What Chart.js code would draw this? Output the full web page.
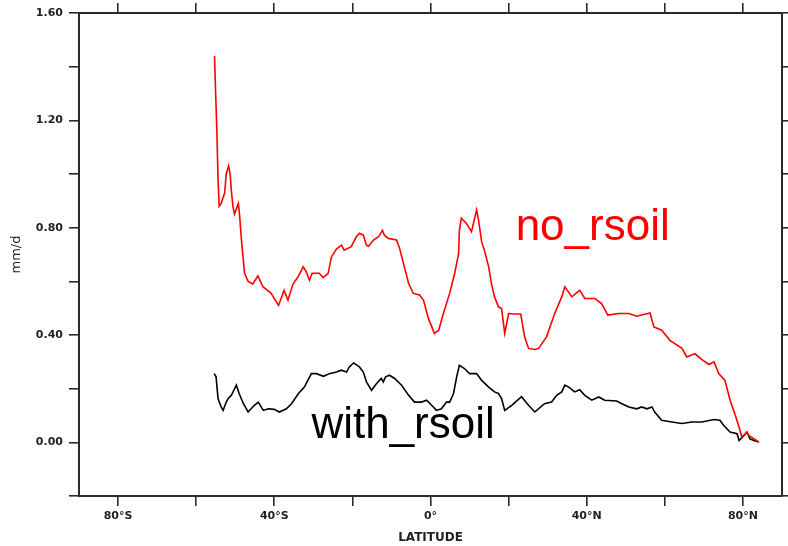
<!DOCTYPE html>
<html>
<head>
<meta charset="utf-8">
<script src="https://cdn.jsdelivr.net/npm/chart.js@4.4.1/dist/chart.umd.min.js"></script>
<style>
html,body{margin:0;padding:0;background:#fff;}
canvas{display:block;}
</style>
</head>
<body>
<canvas id="c" width="788" height="546"></canvas>
<script>
// ---- data (latitude in degrees, value in mm/d) ----
const noRsoilLat = [-55.3,-55.1,-54.7,-54.4,-54.1,-53.6,-52.7,-52.3,-51.7,-51.3,-51.0,-50.6,-50.2,-49.7,-49.2,-48.9,-48.5,-48.0,-47.6,-46.7,-45.5,-44.2,-42.9,-40.8,-38.9,-37.5,-36.5,-35.2,-33.9,-32.6,-31.8,-31.0,-30.3,-28.5,-27.5,-26.2,-25.4,-24.1,-22.8,-22.1,-20.3,-19.0,-18.2,-17.2,-16.4,-15.9,-14.6,-13.3,-12.3,-11.8,-10.8,-8.7,-7.9,-6.7,-5.6,-4.4,-2.8,-1.8,-0.5,1.0,2.1,3.3,4.9,6.2,7.2,7.4,7.9,9.2,10.5,11.0,11.8,12.3,13.1,13.8,14.9,15.6,16.4,17.4,18.2,19.0,20.0,21.5,23.1,24.1,25.1,26.7,27.7,29.7,31.8,33.6,34.4,36.2,38.2,39.5,42.1,43.8,45.4,48.2,50.8,52.8,56.2,57.2,59.2,61.3,64.4,65.6,67.7,69.5,71.3,72.6,73.8,75.4,76.7,77.9,79.0,79.7,80.5,81.0,81.5,82.8,84.1];
const noRsoilVal = [1.44,1.34,1.16,0.98,0.88,0.89,0.93,1.00,1.03,1.00,0.94,0.88,0.85,0.87,0.89,0.85,0.77,0.69,0.63,0.60,0.59,0.62,0.58,0.555,0.51,0.567,0.53,0.59,0.617,0.654,0.635,0.604,0.63,0.63,0.614,0.63,0.69,0.72,0.735,0.716,0.729,0.766,0.779,0.772,0.735,0.73,0.754,0.766,0.79,0.772,0.76,0.754,0.722,0.654,0.592,0.555,0.549,0.53,0.46,0.406,0.418,0.48,0.555,0.63,0.704,0.79,0.835,0.816,0.785,0.816,0.866,0.828,0.747,0.716,0.654,0.592,0.542,0.505,0.499,0.406,0.48,0.478,0.478,0.393,0.35,0.346,0.35,0.393,0.48,0.542,0.58,0.542,0.567,0.536,0.536,0.517,0.474,0.48,0.48,0.47,0.482,0.43,0.418,0.38,0.35,0.318,0.33,0.308,0.29,0.30,0.256,0.231,0.157,0.107,0.057,0.02,0.03,0.038,0.026,0.014,0.001];

const withRsoilLat = [-55.4,-54.9,-54.4,-53.6,-53.1,-52.3,-51.8,-51.0,-49.7,-49.0,-47.9,-46.7,-45.1,-44.1,-42.8,-41.5,-40.0,-38.7,-36.9,-35.6,-33.8,-32.3,-30.5,-29.2,-27.4,-25.9,-24.1,-22.8,-21.5,-20.8,-19.7,-18.2,-17.2,-16.4,-15.1,-13.8,-12.6,-12.1,-11.5,-10.5,-9.2,-7.4,-5.6,-4.1,-2.3,-1.0,0.3,1.5,2.8,4.1,4.9,5.9,6.7,7.4,8.7,10.0,11.8,13.1,14.9,16.4,17.4,18.2,19.0,20.8,23.3,25.1,26.7,29.2,31.0,32.3,33.6,34.4,35.4,36.9,38.2,39.5,41.3,43.1,44.6,47.7,49.0,50.8,52.8,54.1,55.4,56.7,57.4,59.2,61.8,64.4,66.9,69.5,72.6,74.1,75.1,76.7,78.5,79.0,80.3,81.0,81.8,82.8,84.1];
const withRsoilVal = [0.256,0.244,0.163,0.132,0.119,0.15,0.163,0.175,0.213,0.182,0.144,0.113,0.138,0.15,0.119,0.125,0.123,0.113,0.125,0.144,0.182,0.206,0.256,0.256,0.246,0.256,0.262,0.269,0.262,0.281,0.296,0.281,0.262,0.225,0.194,0.219,0.238,0.225,0.244,0.25,0.238,0.213,0.175,0.15,0.15,0.157,0.138,0.119,0.125,0.15,0.15,0.182,0.244,0.287,0.275,0.256,0.256,0.231,0.206,0.188,0.182,0.163,0.119,0.138,0.17,0.138,0.113,0.144,0.15,0.175,0.188,0.213,0.206,0.188,0.196,0.175,0.157,0.169,0.157,0.154,0.144,0.132,0.125,0.132,0.125,0.132,0.113,0.082,0.076,0.07,0.076,0.076,0.085,0.082,0.063,0.038,0.032,0.007,0.026,0.038,0.013,0.007,0.001];

const seriesNames = ['no_rsoil', 'with_rsoil'];
const seriesColors = ['#ff0000', '#000000'];
// annotation anchor positions in data coordinates [lat, value]
const labelAnchors = [[21.8, 0.754], [-30.5, 0.015]];

const xMin = -90, xMax = 90;
const xTickValues = [-80,-60,-40,-20,0,20,40,60,80];
const xTickLabels = ['80°S','','40°S','','0°','','40°N','','80°N'];
const yMin = -0.2, yMax = 1.6, yStep = 0.2;
const yLabelTicks = [0, 0.4, 0.8, 1.2, 1.6];
const xTitle = 'LATITUDE';
const yTitle = 'mm/d';

function toPoints(xs, ys){ return xs.map((x,i)=>({x:x, y:ys[i]})); }

const axisColor = '#2a2a2a';
const tickFont = {family:'DejaVu Sans', size:11, weight:'bold'};

function frameGrid(){
  return {display:true, drawOnChartArea:false, drawTicks:true, tickLength:10, color:axisColor, lineWidth:1.6};
}
function frameBorder(){ return {display:true, color:axisColor, width:2}; }
function setXTicks(s){ s.ticks = xTickValues.map(v=>({value:v})); }

const annotatePlugin = {
  id:'annotate',
  afterDatasetsDraw(chart){
    const ctx = chart.ctx;
    const xs = chart.scales.x, ys = chart.scales.y;
    ctx.save();
    ctx.font = '44px "Liberation Sans"';
    ctx.textBaseline = 'alphabetic';
    ctx.textAlign = 'left';
    seriesNames.forEach((name,i)=>{
      ctx.fillStyle = seriesColors[i];
      ctx.fillText(name, xs.getPixelForValue(labelAnchors[i][0]), ys.getPixelForValue(labelAnchors[i][1]));
    });
    ctx.restore();
  }
};

new Chart(document.getElementById('c'), {
  type:'line',
  data:{
    datasets:[
      {label:seriesNames[0], data:toPoints(noRsoilLat, noRsoilVal), borderColor:seriesColors[0], borderWidth:1.6, pointRadius:0, tension:0, fill:false, xAxisID:'x', yAxisID:'y'},
      {label:seriesNames[1], data:toPoints(withRsoilLat, withRsoilVal), borderColor:seriesColors[1], borderWidth:1.6, pointRadius:0, tension:0, fill:false, xAxisID:'x', yAxisID:'y'}
    ]
  },
  options:{
    responsive:false,
    devicePixelRatio:1,
    animation:false,
    layout:{padding:0},
    plugins:{legend:{display:false}, tooltip:{enabled:false}},
    scales:{
      x:{
        type:'linear', position:'bottom', min:xMin, max:xMax,
        grid:frameGrid(), border:frameBorder(),
        afterBuildTicks:setXTicks,
        ticks:{autoSkip:false, maxRotation:0, padding:4, color:'#222', font:tickFont,
          callback:(v)=>{ const i = xTickValues.indexOf(Math.round(v)); return i >= 0 ? xTickLabels[i] : ''; }},
        title:{display:true, text:xTitle, color:'#222', font:{family:'DejaVu Sans', size:12, weight:'bold'}, padding:{top:0,bottom:1}},
        afterFit:(s)=>{ s.height = 50; }
      },
      xTop:{
        type:'linear', position:'top', min:xMin, max:xMax,
        grid:frameGrid(), border:frameBorder(),
        afterBuildTicks:setXTicks,
        ticks:{autoSkip:false, display:false},
        afterFit:(s)=>{ s.height = 13; }
      },
      y:{
        type:'linear', position:'left', min:yMin, max:yMax,
        grid:frameGrid(), border:frameBorder(),
        ticks:{stepSize:yStep, autoSkip:false, padding:6, color:'#222', font:tickFont,
          callback:(v)=> (yLabelTicks.some(t=>Math.abs(t-v)<1e-6) ? Number(v).toFixed(2) : '')},
        title:{display:true, text:yTitle, color:'#222', font:{family:'DejaVu Sans', size:13}, padding:{top:9,bottom:0}},
        afterFit:(s)=>{ s.width = 79; }
      },
      yRight:{
        type:'linear', position:'right', min:yMin, max:yMax,
        grid:frameGrid(), border:frameBorder(),
        ticks:{stepSize:yStep, autoSkip:false, display:false},
        afterFit:(s)=>{ s.width = 6; }
      }
    }
  },
  plugins:[annotatePlugin]
});
</script>
</body>
</html>
